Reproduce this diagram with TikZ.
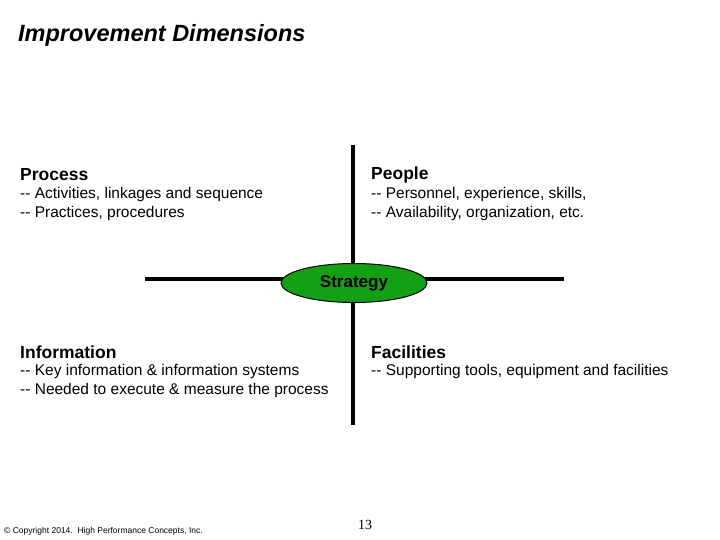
\documentclass[tikz,border=0pt]{standalone}
\usepackage{fontspec}
\setmainfont{Liberation Sans}
\usetikzlibrary{shapes.geometric,positioning}
\tikzstyle{head} = [anchor=west, font=\bfseries\fontsize{17.5}{20}\selectfont, inner sep=0pt]
\tikzstyle{body} = [anchor=north west, font=\fontsize{15.5}{19.5}\selectfont, align=left, inner sep=0pt]
\tikzstyle{axis} = [line width=4.5pt]
\definecolor{stratgreen}{RGB}{20,160,20}
\newcommand{\dd}{{-}{-}}
\begin{document}
\begin{tikzpicture}[x=1pt,y=-1pt]
	\useasboundingbox (0,0) rectangle (720,540);
	
	% title
	\node[anchor=west, font=\bfseries\itshape\fontsize{23.5}{28}\selectfont, inner sep=0pt] (title) at (18,35) {Improvement Dimensions};
	
	% axes
	\coordinate (l) at (145,279);
	\coordinate (r) at (564,279);
	\coordinate (t) at (353,145);
	\coordinate (b) at (353,425);
	\draw[axis] (l) -- (r);
	\draw[axis] (t) -- (b);
	\node[ellipse, draw, line width=1pt, fill=stratgreen, minimum width=146pt, minimum height=39pt, inner sep=0pt, font=\bfseries\fontsize{17}{20}\selectfont] (strategy) at (354,283) {Strategy};
	
	% quadrants
	\node[head] (process) at (20,175) {Process};
	\node[body] (processtxt) at (20,187) {\dd{} Activities, linkages and sequence\\\dd{} Practices, procedures};
	\node[head] (people) at (371,175) {People};
	\node[body] (peopletxt) at (371,187) {\dd{} Personnel, experience, skills,\\\dd{} Availability, organization, etc.};
	\node[head] (information) at (20,352) {Information};
	\node[body] (infotxt) at (20,364) {\dd{} Key information \& information systems\\\dd{} Needed to execute \& measure the process};
	\node[head] (facilities) at (371,352) {Facilities};
	\node[body] (factxt) at (371,364) {\dd{} Supporting tools, equipment and facilities};
	
	% footer
	\node[anchor=west, font=\fontsize{8.5}{10}\selectfont, inner sep=0pt] (copy) at (4,531) {\textcopyright{} Copyright 2014.\ \ High Performance Concepts, Inc.};
	\node[font=\fontspec{Liberation Serif}\fontsize{14}{16}\selectfont, inner sep=0pt] (page) at (365,525) {13};
\end{tikzpicture}
\end{document}
